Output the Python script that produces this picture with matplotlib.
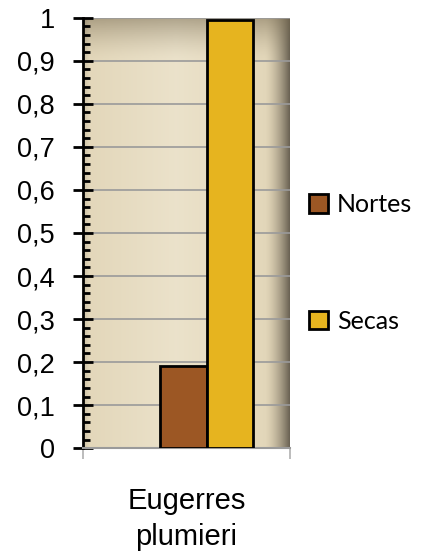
import numpy as np
import matplotlib.pyplot as plt
from matplotlib.patches import Patch

species = ["Eugerres\nplumieri"]
seasons = ["Nortes", "Secas"]
values = [0.19, 0.995]
colors = ["#9C5724", "#E6B41F"]

fig = plt.figure(figsize=(4.25, 5.54), dpi=100)
ax = fig.add_axes([0.195, 0.191, 0.487, 0.777])

w = 1.0
xlo, xhi = -2.667 * w, 1.785 * w
ax.set_xlim(xlo, xhi)
ax.set_ylim(0, 1)

# background gradient (beige with darker top and right edge)
nx, ny = 200, 200
xs = np.linspace(0, 1, nx)
ys = np.linspace(0, 1, ny)
X, Y = np.meshgrid(xs, ys)
light = np.array([0.94, 0.91, 0.83])
mid = np.array([0.88, 0.83, 0.71])
dark = np.array([0.42, 0.39, 0.33])
t = 0.3 + 0.7 * np.abs(X - 0.45) / 0.55
img = light[None, None, :] * (1 - t[..., None]) + mid[None, None, :] * t[..., None]
right = np.clip((X - 0.88) / 0.12, 0, 1) ** 1.6
img = img * (1 - right[..., None]) + dark[None, None, :] * right[..., None]
top = np.clip((Y - 0.90) / 0.10, 0, 1) ** 1.5
img = img * (1 - 0.5 * top[..., None]) + np.array([0.45, 0.40, 0.30]) * 0.5 * top[..., None]
left = np.clip((0.03 - X) / 0.03, 0, 1)
img = img * (1 - 0.1 * left[..., None])
ax.imshow(img, extent=[xlo, xhi, 0, 1], origin="lower", aspect="auto", zorder=0)

ax.yaxis.grid(True, color="#9a9a9a", linewidth=1.2, zorder=1)
ax.set_axisbelow(True)

for i, (s, v, c) in enumerate(zip(seasons, values, colors)):
    ax.bar((i - 0.5) * w, v, width=w, color=c, edgecolor="black",
           linewidth=2, zorder=3, label=s)

ax.set_yticks(np.arange(0, 1.01, 0.1))
ax.set_yticklabels(["0"] + ["0,%d" % k for k in range(1, 10)] + ["1"],
                   fontsize=19.5, family="Liberation Sans")
ax.set_yticks(np.arange(0, 1.001, 0.02), minor=True)
ax.tick_params(axis="y", which="major", direction="inout", length=14,
               width=2, pad=13)
ax.tick_params(axis="y", which="minor", direction="in", length=5, width=2)

ax.set_xticks([(xlo + xhi) / 2])
ax.set_xticklabels(species, fontsize=21, family="Liberation Sans",
                   linespacing=1.35)
ax.set_xticks([xlo, xhi], minor=True)
ax.tick_params(axis="x", which="major", length=0, pad=28)
ax.tick_params(axis="x", which="minor", length=8, color="#b0b0b0",
               width=1.2, direction="out")

ax.spines["left"].set_linewidth(2)
ax.spines["bottom"].set_color("#9a9a9a")
ax.spines["bottom"].set_linewidth(1.5)
ax.spines["top"].set_visible(False)
ax.spines["right"].set_visible(False)

handles = [Patch(facecolor=c, edgecolor="black", linewidth=2, label=s)
           for s, c in zip(seasons, colors)]
fig.legend(handles=handles, loc="center left", bbox_to_anchor=(0.675, 0.525),
           frameon=False, prop={"family": "Lato", "size": 18},
           handlelength=0.75, handleheight=0.75, handletextpad=0.35,
           labelspacing=3.75)

fig.savefig("out.png", dpi=100)
